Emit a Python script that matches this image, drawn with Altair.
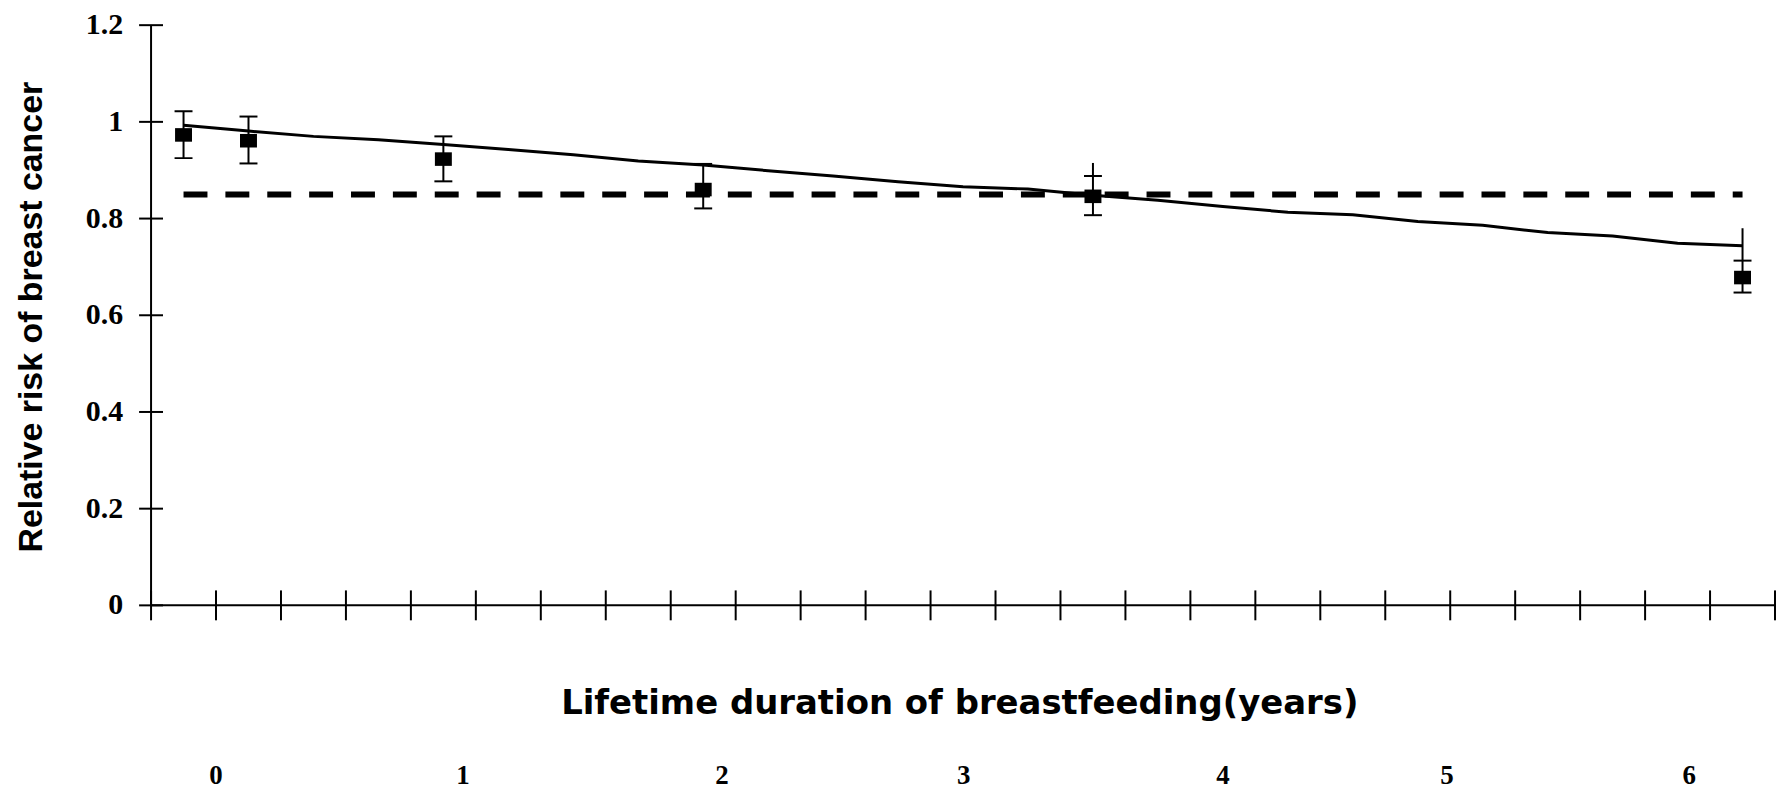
import altair as alt
import pandas as pd

# ---- data ----
# fitted trend, one value per category (25 categories on the x axis)
fit_cat = list(range(25))
fit_rr = [0.993, 0.981, 0.970, 0.963, 0.953, 0.943, 0.932, 0.919, 0.911, 0.899,
          0.888, 0.876, 0.866, 0.861, 0.848, 0.838, 0.825, 0.813, 0.808, 0.794,
          0.786, 0.771, 0.764, 0.749, 0.744]

# pooled reference (dashed)
ref_cat = [0, 24]
ref_rr = [0.85, 0.85]

# observed relative risks with confidence intervals
pt_cat = [0, 1, 4, 8, 14, 24]
pt_rr = [0.973, 0.961, 0.923, 0.860, 0.846, 0.678]
pt_lo = [0.925, 0.914, 0.877, 0.821, 0.807, 0.647]
pt_hi = [1.022, 1.011, 0.970, 0.913, 0.888, 0.713]
pt_ext = [None, None, None, None, 0.915, 0.780]

# axis ticks
x_ticks = list(range(26))
y_ticks = [0, 0.2, 0.4, 0.6, 0.8, 1, 1.2]
y_tick_labels = ["0", "0.2", "0.4", "0.6", "0.8", "1", "1.2"]

# year labels printed under the axis title
year_labels = ["0", "1", "2", "3", "4", "5", "6"]
year_pos = [1.0, 4.8, 8.79, 12.51, 16.5, 19.95, 23.68]

x_title = "Lifetime duration of breastfeeding(years)"
y_title = "Relative risk of breast cancer"

X_MIN, X_MAX = 0, 25
Y_MIN, Y_MAX = 0, 1.2

fit_df = pd.DataFrame({"cat": fit_cat, "rr": fit_rr})
ref_df = pd.DataFrame({"cat": ref_cat, "rr": ref_rr})
pt_df = pd.DataFrame({"cat": pt_cat, "rr": pt_rr, "lo": pt_lo, "hi": pt_hi, "ext": pt_ext})
xt_df = pd.DataFrame({"t": x_ticks})
yt_df = pd.DataFrame({"t": y_ticks, "label": y_tick_labels})
lab_df = pd.DataFrame({"label": year_labels, "pos": year_pos})
one = pd.DataFrame({"k": [0]})

xscale = alt.Scale(domain=[X_MIN, X_MAX], nice=False, zero=False)
yscale = alt.Scale(domain=[Y_MIN, Y_MAX], nice=False)
XS = dict(scale=xscale, axis=None)
YS = dict(scale=yscale, axis=None)
pos = "datum.cat + 0.5"

fit_line = alt.Chart(fit_df).transform_calculate(pos=pos).mark_line(
    color="black", strokeWidth=3
).encode(x=alt.X("pos:Q", **XS), y=alt.Y("rr:Q", **YS))

ref_line = alt.Chart(ref_df).transform_calculate(pos=pos).mark_line(
    color="black", strokeWidth=6, strokeDash=[24, 18], strokeCap="butt"
).encode(x=alt.X("pos:Q", **XS), y=alt.Y("rr:Q", **YS))

err_rule = alt.Chart(pt_df).transform_calculate(pos=pos).mark_rule(
    color="black", strokeWidth=2
).encode(x=alt.X("pos:Q", **XS), y=alt.Y("lo:Q", **YS), y2="hi:Q")

ext_rule = alt.Chart(pt_df).transform_filter("datum.ext != null").transform_calculate(pos=pos).mark_rule(
    color="black", strokeWidth=2
).encode(x=alt.X("pos:Q", **XS), y=alt.Y("hi:Q", **YS), y2="ext:Q")

cap_lo = alt.Chart(pt_df).transform_calculate(pos=pos).mark_tick(
    color="black", orient="horizontal", size=18, thickness=2, opacity=1
).encode(x=alt.X("pos:Q", **XS), y=alt.Y("lo:Q", **YS))
cap_hi = alt.Chart(pt_df).transform_calculate(pos=pos).mark_tick(
    color="black", orient="horizontal", size=18, thickness=2, opacity=1
).encode(x=alt.X("pos:Q", **XS), y=alt.Y("hi:Q", **YS))

points = alt.Chart(pt_df).transform_calculate(pos=pos).mark_point(
    shape="M-1,-0.8H1V0.8H-1Z", filled=True, color="black", opacity=1, size=289
).encode(x=alt.X("pos:Q", **XS), y=alt.Y("rr:Q", **YS))

# axis lines
x_domain = alt.Chart(one).mark_rule(color="black", strokeWidth=2).encode(
    x=alt.XDatum(X_MIN, **XS), x2=alt.X2Datum(X_MAX), y=alt.YDatum(Y_MIN, **YS)
)
y_domain = alt.Chart(one).mark_rule(color="black", strokeWidth=2).encode(
    y=alt.YDatum(Y_MIN, **YS), y2=alt.Y2Datum(Y_MAX), x=alt.XDatum(X_MIN, **XS)
)

# cross-style ticks straddling each axis line
x_cross = alt.Chart(xt_df).mark_tick(
    color="black", orient="vertical", size=30, thickness=2, opacity=1
).encode(x=alt.X("t:Q", **XS), y=alt.YDatum(Y_MIN, **YS))
y_cross = alt.Chart(yt_df).mark_tick(
    color="black", orient="horizontal", size=24, thickness=2, opacity=1
).encode(y=alt.Y("t:Q", **YS), x=alt.XDatum(X_MIN, **XS))

# y tick labels
y_labels = alt.Chart(yt_df).mark_text(
    font="Liberation Serif", fontSize=30, fontWeight="bold", color="black",
    align="right", baseline="middle", dx=-28
).encode(y=alt.Y("t:Q", **YS), x=alt.XDatum(X_MIN, **XS), text="label:N")

# year labels under the title
year_text = alt.Chart(lab_df).mark_text(
    font="Liberation Serif", fontSize=27, fontWeight="bold", color="black",
    align="center", baseline="middle"
).encode(x=alt.X("pos:Q", **XS), y=alt.YDatum(-0.354, **YS), text="label:N")

# axis titles
x_title_mark = alt.Chart(one).mark_text(
    text=x_title, font="DejaVu Sans", fontSize=34, fontWeight="bold", color="black",
    align="center", baseline="alphabetic"
).encode(x=alt.XDatum(12.45, **XS), y=alt.YDatum(-0.224, **YS))

y_title_mark = alt.Chart(one).mark_text(
    text=y_title, font="Liberation Sans", fontSize=34, fontWeight="bold", color="black",
    align="center", baseline="alphabetic", angle=270
).encode(x=alt.XDatum(-1.685, **XS), y=alt.YDatum(0.596, **YS))

chart = alt.layer(
    x_domain, y_domain, x_cross, y_cross,
    fit_line, ref_line, err_rule, ext_rule, cap_lo, cap_hi, points,
    y_labels, year_text, x_title_mark, y_title_mark
).properties(
    width=1629, height=582,
    autosize=alt.AutoSizeParams(type="none"),
    padding={"left": 143.5, "top": 16, "right": 4, "bottom": 187},
    background="white",
).configure_view(stroke=None)

chart.save("out.html", embed_options={"renderer": "svg", "actions": False})
